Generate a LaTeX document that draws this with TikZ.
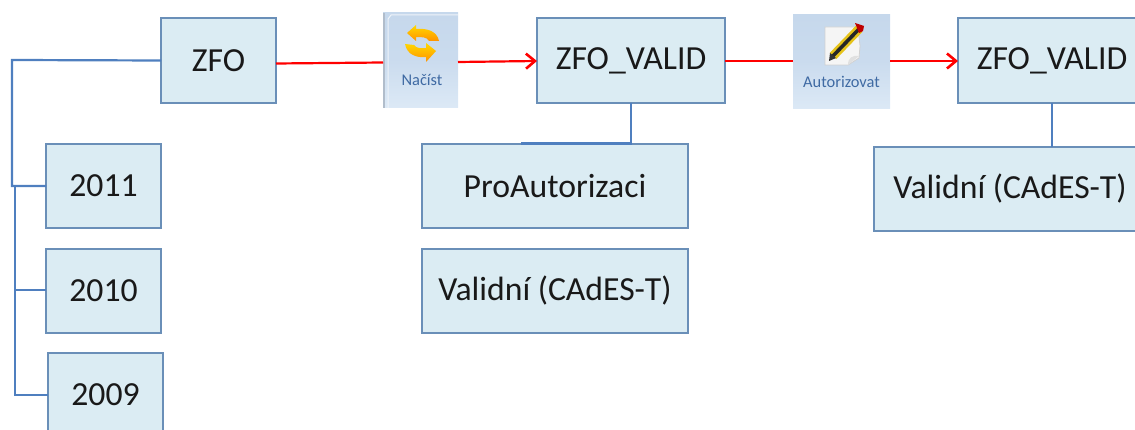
\documentclass[tikz,border=0pt]{standalone}
\usepackage{fontspec}
\setmainfont{Carlito}
\usetikzlibrary{arrows.meta}
\definecolor{boxfill}{HTML}{DBECF3}
\definecolor{boxline}{HTML}{6A8FB8}
\definecolor{linkblue}{HTML}{4F7FBF}
\definecolor{btop}{HTML}{C6D8EC}
\definecolor{bbot}{HTML}{DCE9F6}
\definecolor{btext}{HTML}{3F6AA3}
\tikzset{
  box/.style={draw=boxline,line width=1.4pt,fill=boxfill,inner sep=0pt,outer sep=0pt,font=\fontsize{33.7}{34}\selectfont,text=black!90},
  btn/.style={inner sep=0pt,outer sep=0pt,top color=btop,bottom color=bbot,middle color=btop!80!bbot},
  btnlabel/.style={inner sep=0pt,text=btext,font=\fontsize{16.4}{17}\selectfont},
  link/.style={draw=linkblue,line width=2.2pt},
  thinlink/.style={draw=linkblue,line width=1.5pt},
  flow/.style={draw=red,line width=2.2pt},
  flowto/.style={flow,-{Straight Barb[length=9pt,width=15pt,line width=2.6pt]}}
}
\begin{document}
\begin{tikzpicture}[x=1pt,y=-1pt]
\useasboundingbox (0,0) rectangle (1135,430);
\clip (0,0) rectangle (1135,430);
\coordinate (trunkA) at (12,60);
\coordinate (trunkB) at (12,186);
\coordinate (trunkC) at (15,186);
\coordinate (trunkD) at (15,290);
\coordinate (trunkE) at (15,395);
\coordinate (procEnd) at (521,143.5);
% boxes
\node[box,minimum width=115pt,minimum height=85pt] (zfo) at (218.5,60.5) {ZFO};
\node[box,minimum width=115pt,minimum height=84pt] (y2011) at (103.5,186) {2011};
\node[box,minimum width=115pt,minimum height=84pt] (y2010) at (103.5,291) {2010};
\node[box,minimum width=115pt,minimum height=84pt] (y2009) at (105.5,395) {2009};
\node[box,minimum width=188pt,minimum height=85pt] (valid) at (631,60.5) {ZFO\_VALID};
\node[box,minimum width=266pt,minimum height=84pt] (pro) at (555,186) {ProAutorizaci};
\node[box,minimum width=266pt,minimum height=84pt] (cades) at (555,291) {Validní (CAdES-T)};
\node[box,minimum width=188pt,minimum height=85pt] (validb) at (1052,60.5) {ZFO\_VALID};
\node[box,minimum width=272pt,minimum height=84pt] (cadesb) at (1010,189) {Validní (CAdES-T)};
% buttons
\node[btn,minimum width=75pt,minimum height=95pt] (nacist) at (420.5,60.5) {};
\node[btn,minimum width=97pt,minimum height=94pt] (autor) at (841.5,62) {};
\draw[white!70!btop,line width=1pt] (388,108) -- (388,19) -- (391,15) -- (458,15);
\fill[btop!70!gray] (383,13) rectangle (385,108);
\node[btnlabel] (nacistlabel) at (422,80) {Načíst};
\node[btnlabel] (autorlabel) at (841.5,82) {Autorizovat};
% refresh icon
\shade[top color=yellow!70!orange,bottom color=orange!85!yellow]
  (407,33) -- (416,25) -- (416,29) .. controls (427,28) and (437,31) .. (439,41) -- (429,41) .. controls (427,37) and (422,37) .. (416,37) -- (416,41) -- cycle;
\shade[top color=yellow!70!orange,bottom color=orange!85!yellow]
  (436,51) -- (426,62) -- (426,57) .. controls (417,58) and (407,55) .. (405,44) -- (414,45) .. controls (417,49) and (421,48) .. (426,48) -- (426,43) -- cycle;
% pencil icon
\fill[white!92!gray,draw=black!18,line width=.8pt] (825,27) -- (858,27) -- (860,46) -- (859,58) -- (848,65) -- (825,65) -- cycle;
\fill[black!12] (848,65) .. controls (848,58) and (852,55) .. (859,56) -- cycle;
\draw[line width=9pt,draw=yellow!70!orange!90!black] (833,56) -- (859,29);
\draw[line width=3.6pt,draw=black!85] (832,57) -- (859,29);
\fill[red!75!black] (855,23) -- (864,26) -- (863,31) -- (859,33) -- cycle;
\fill[black!80] (829,61) -- (830,53) -- (836,58) -- cycle;
% blue connectors
\draw[link] (zfo.west) -- (trunkA) -- (trunkB) -- (y2011.west);
\draw[thinlink] (trunkC) -- (trunkD) -- (y2010.west |- trunkD);
\draw[thinlink] (trunkD) -- (trunkE) -- (y2009.west);
\draw[link] (valid.south) -- (631,143.5) -- (procEnd);
\draw[thinlink] (validb.south) -- (cadesb.north -| validb.south);
% red connectors
\draw[flow] (zfo.east |- 0,63.5) -- (nacist.west |- 0,62.5);
\draw[flowto] (nacist.east |- 0,62) -- (valid.west |- 0,61);
\draw[flow,line width=1.8pt] (valid.east |- 0,61) -- (autor.west |- 0,61);
\draw[flowto,line width=1.8pt] (autor.east |- 0,61) -- (validb.west |- 0,61);
\end{tikzpicture}
\end{document}
